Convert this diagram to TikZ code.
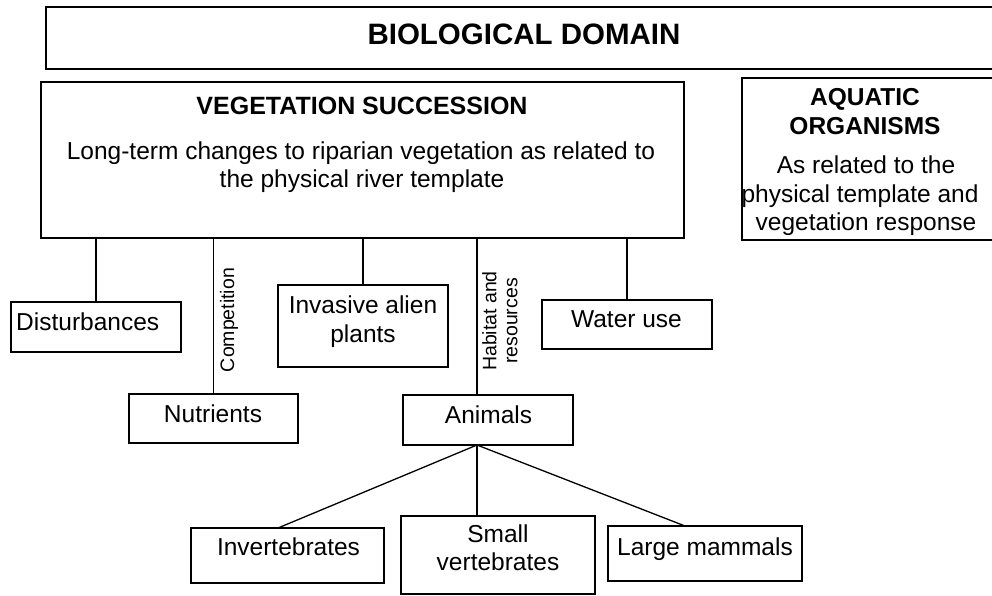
\documentclass[tikz,border=0pt]{standalone}
\usepackage{fontspec}
\setmainfont{Liberation Sans}
\begin{document}
\begin{tikzpicture}[x=1pt,y=-1pt,
  box/.style={draw=black, line width=1.3pt, fill=none, inner sep=0pt, outer sep=0pt, rectangle},
  conn/.style={draw=black, line width=1.3pt},
  txt/.style={font=\fontsize{24.5}{28}\selectfont, inner sep=0pt, anchor=base},
  txtw/.style={font=\fontsize{24.5}{28}\selectfont, inner sep=0pt, anchor=base west},
  btxt/.style={font=\bfseries\fontsize{24.5}{28}\selectfont, inner sep=0pt, anchor=base},
  lab/.style={font=\fontsize{19.5}{21}\selectfont, inner sep=0pt, rotate=90, align=center}]
\useasboundingbox (0,0) rectangle (992,596);
\clip (0,0) rectangle (992,596);
\fill[white] (0,0) rectangle (992,596);
% boxes
\node[box, minimum width=954pt, minimum height=62pt] (bio) at (523,38) {};
\node[box, minimum width=643pt, minimum height=156pt] (veg) at (362.5,160) {};
\node[box, minimum width=258pt, minimum height=162pt] (aqua) at (871,159) {};
\node[box, minimum width=170pt, minimum height=50pt] (dist) at (96,327) {};
\node[box, minimum width=169pt, minimum height=49pt] (nutr) at (213.5,418.5) {};
\node[box, minimum width=170pt, minimum height=82pt] (inv) at (363,326) {};
\node[box, minimum width=170pt, minimum height=50pt] (anim) at (488,420) {};
\node[box, minimum width=170pt, minimum height=49pt] (water) at (627,324.5) {};
\node[box, minimum width=193pt, minimum height=55pt] (invert) at (287.5,555.5) {};
\node[box, minimum width=194pt, minimum height=78pt] (smallv) at (498,555) {};
\node[box, minimum width=194pt, minimum height=55pt] (large) at (705,553.5) {};
% texts
\node[btxt, font=\bfseries\fontsize{29.5}{32}\selectfont] at (524,45) {BIOLOGICAL DOMAIN};
\node[btxt, font=\bfseries\fontsize{25}{28}\selectfont] at (362,115) {VEGETATION SUCCESSION};
\node[txt] at (361,160) {Long-term changes to riparian vegetation as related to};
\node[txt] at (362,187) {the physical river template};
\node[btxt] at (865,106) {AQUATIC};
\node[btxt] at (865,135) {ORGANISMS};
\node[txt] at (866,174) {As related to the};
\node[txt] at (860,202) {physical template and};
\node[txt] at (866,230) {vegetation response};
\node[txtw] at (16,330) {Disturbances};
\node[txt] at (213,422) {Nutrients};
\node[txt] at (363,313) {Invasive alien};
\node[txt] at (363,342) {plants};
\node[txt] at (488.5,423) {Animals};
\node[txt] at (626.5,327) {Water use};
\node[txt] at (288.5,555) {Invertebrates};
\node[txt] at (498,542) {Small};
\node[txt] at (498,570) {vertebrates};
\node[txtw] at (617,555) {Large mammals};
\node[lab] at (229,320) {Competition};
\node[lab] at (500,321) {Habitat and\\resources};
% connectors
\coordinate (hab) at (477,0);
\draw[conn] (veg.south -| dist.north) -- (dist.north);
\draw[conn] (veg.south -| nutr.north) -- (nutr.north);
\draw[conn] (veg.south -| inv.north) -- (inv.north);
\draw[conn] (veg.south -| hab) -- (anim.north -| hab);
\draw[conn] (veg.south -| water.north) -- (water.north);
\coordinate (fan) at (anim.south -| hab);
\draw[conn] (fan) -- ([xshift=-9.5pt]invert.north);
\draw[conn] (fan) -- (smallv.north -| hab);
\draw[conn] (fan) -- ([xshift=-20pt]large.north);
\end{tikzpicture}
\end{document}
